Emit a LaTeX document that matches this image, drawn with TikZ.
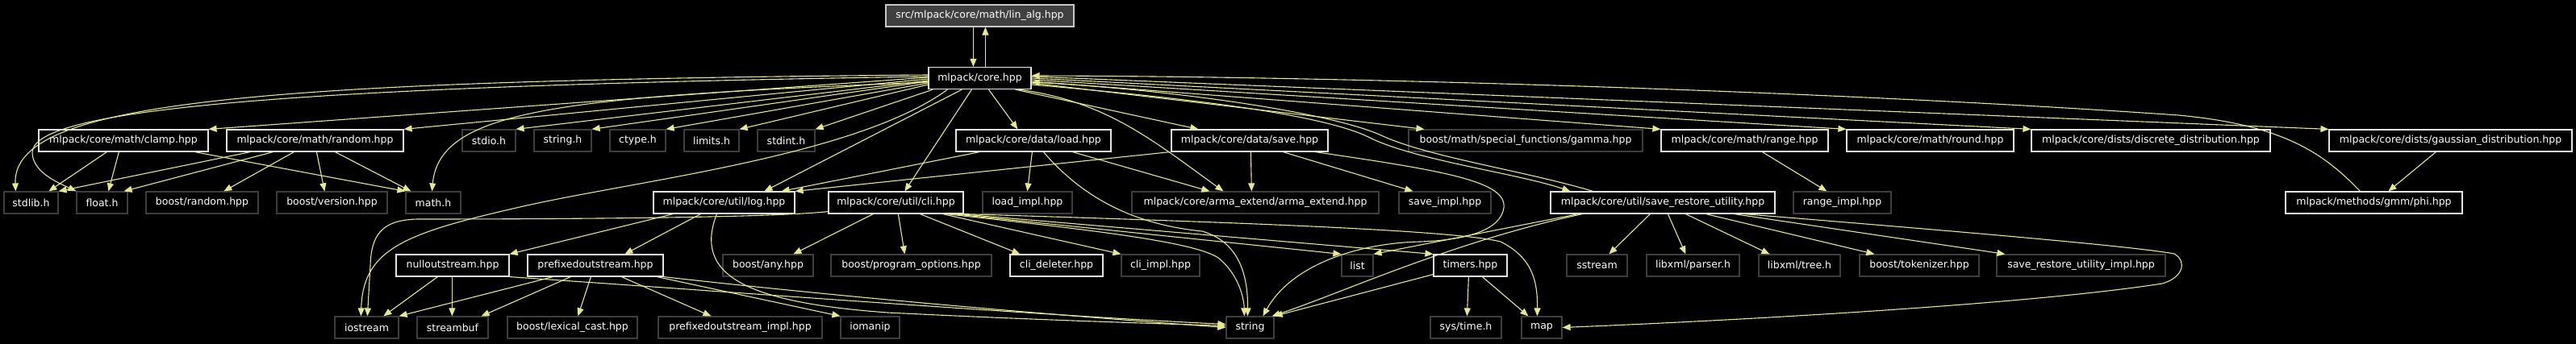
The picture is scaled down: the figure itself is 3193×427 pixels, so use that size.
\documentclass[tikz,border=0pt]{standalone}
\usepackage{fontspec}
\setmainfont{DejaVu Sans}
\usetikzlibrary{arrows.meta}
\definecolor{edgec}{RGB}{232,232,144}
\definecolor{grayb}{RGB}{62,62,62}
\definecolor{whiteb}{RGB}{228,228,228}
\definecolor{linfill}{RGB}{64,64,64}
\definecolor{linb}{RGB}{200,200,200}
\tikzset{
  nd/.style={rectangle, inner sep=0pt, minimum height=27pt, text=white,
             font=\fontsize{12.5}{14}\selectfont, line width=1.2pt, fill=black},
  proj/.style={nd, draw=whiteb},
  ext/.style={nd, draw=grayb},
  topn/.style={nd, draw=linb, fill=linfill},
  dep/.style={draw=edgec, line width=1.1pt, -{Triangle[length=10pt,width=8pt]}},
}
\newcommand{\bx}[6]{\node[#6, minimum width={(#3)-(#2)}] (#1) at ({((#2)+(#3))/2},#4) {#5};}
\begin{document}
\begin{tikzpicture}[x=1pt,y=-1pt]
\useasboundingbox (0,0) rectangle (3193,427);
\fill[black] (0,0) rectangle (3193,427);
% rows
\bx{linalg}{1098}{1331}{19.5}{src/mlpack/core/math/lin\_alg.hpp}{topn}
\bx{core}{1151}{1278}{97}{mlpack/core.hpp}{proj}
% row 2
\bx{clamp}{48}{258}{174.5}{mlpack/core/math/clamp.hpp}{proj}
\bx{random}{281}{500}{174.5}{mlpack/core/math/random.hpp}{proj}
\bx{stdio}{573}{639}{174.5}{stdio.h}{ext}
\bx{stringh}{662}{733}{174.5}{string.h}{ext}
\bx{ctype}{756}{825}{174.5}{ctype.h}{ext}
\bx{limits}{848}{916}{174.5}{limits.h}{ext}
\bx{stdint}{939}{1010}{174.5}{stdint.h}{ext}
\bx{load}{1185}{1377}{174.5}{mlpack/core/data/load.hpp}{proj}
\bx{save}{1452}{1646}{174.5}{mlpack/core/data/save.hpp}{proj}
\bx{gamma}{1746}{2036}{174.5}{boost/math/special\_functions/gamma.hpp}{ext}
\bx{range}{2059}{2266}{174.5}{mlpack/core/math/range.hpp}{proj}
\bx{round}{2289}{2496}{174.5}{mlpack/core/math/round.hpp}{proj}
\bx{discrete}{2518}{2814}{174.5}{mlpack/core/dists/discrete\_distribution.hpp}{proj}
\bx{gaussian}{2887}{3188}{174.5}{mlpack/core/dists/gaussian\_distribution.hpp}{proj}
% row 3
\bx{stdlib}{5}{72}{251.5}{stdlib.h}{ext}
\bx{floath}{95}{158}{251.5}{float.h}{ext}
\bx{brandom}{181}{320}{251.5}{boost/random.hpp}{ext}
\bx{bversion}{343}{480}{251.5}{boost/version.hpp}{ext}
\bx{mathh}{503}{571}{251.5}{math.h}{ext}
\bx{log}{810}{985}{251.5}{mlpack/core/util/log.hpp}{proj}
\bx{cli}{1027}{1194}{251.5}{mlpack/core/util/cli.hpp}{proj}
\bx{loadimpl}{1218}{1329}{251.5}{load\_impl.hpp}{ext}
\bx{arma}{1403}{1709}{251.5}{mlpack/core/arma\_extend/arma\_extend.hpp}{ext}
\bx{saveimpl}{1734}{1848}{251.5}{save\_impl.hpp}{ext}
\bx{sr}{1922}{2200}{251.5}{mlpack/core/util/save\_restore\_utility.hpp}{proj}
\bx{rangeimpl}{2223}{2344}{251.5}{range\_impl.hpp}{ext}
\bx{phi}{2833}{3052}{251.5}{mlpack/methods/gmm/phi.hpp}{proj}
% row 4
\bx{null}{491}{631}{329.5}{nulloutstream.hpp}{proj}
\bx{pre}{654}{822}{329.5}{prefixedoutstream.hpp}{proj}
\bx{any}{896}{1008}{329.5}{boost/any.hpp}{ext}
\bx{po}{1030}{1229}{329.5}{boost/program\_options.hpp}{ext}
\bx{deleter}{1252}{1367}{329.5}{cli\_deleter.hpp}{proj}
\bx{cliimpl}{1390}{1487}{329.5}{cli\_impl.hpp}{ext}
\bx{list}{1663}{1702}{329.5}{list}{ext}
\bx{timers}{1777}{1868}{329.5}{timers.hpp}{proj}
\bx{sstream}{1942}{2017}{329.5}{sstream}{ext}
\bx{parser}{2041}{2156}{329.5}{libxml/parser.h}{ext}
\bx{tree}{2180}{2281}{329.5}{libxml/tree.h}{ext}
\bx{tok}{2305}{2453}{329.5}{boost/tokenizer.hpp}{ext}
\bx{srimpl}{2475}{2684}{329.5}{save\_restore\_utility\_impl.hpp}{ext}
% row 5
\bx{iostream}{415}{494}{406.5}{iostream}{ext}
\bx{streambuf}{517}{605}{406.5}{streambuf}{ext}
\bx{lexical}{629}{790}{406.5}{boost/lexical\_cast.hpp}{ext}
\bx{pimpl}{816}{1019}{406.5}{prefixedoutstream\_impl.hpp}{ext}
\bx{iomanip}{1042}{1115}{406.5}{iomanip}{ext}
\bx{string}{1520}{1579}{406.5}{string}{ext}
\bx{systime}{1773}{1861}{406.5}{sys/time.h}{ext}
\bx{map}{1886}{1936}{406.5}{map}{ext}

% lin_alg <-> core
\draw[dep] ([xshift=109pt]linalg.south west) -- ([xshift=56pt]core.north west);
\draw[dep] ([xshift=71pt]core.north west) -- ([xshift=124pt]linalg.south west);

% core, left side
\draw[dep] ([yshift=4pt]core.west) .. controls (300,100) and (15,128) .. ([xshift=15pt]stdlib.north west);
\draw[dep] ([yshift=2pt]core.west) .. controls (300,108) and (38,140) .. (40,190) .. controls (41,215) and (75,228) .. (floath.north west);
\draw[dep] ([yshift=1pt]core.west) -- (clamp.north east);
\draw[dep] ([yshift=-1pt]core.west) -- (random.north east);
\draw[dep] ([yshift=-5pt]core.west) .. controls (700,120) and (545,135) .. ([xshift=33pt]mathh.north west);
\draw[dep] ([yshift=-3pt]core.west) -- (stdio.north east);
\draw[dep] ([yshift=-4pt]core.west) -- (stringh.north east);
\draw[dep] ([yshift=-6pt]core.west) -- (ctype.north east);
\draw[dep] ([yshift=-8pt]core.west) -- (limits.north east);
\draw[dep] ([xshift=6pt]core.south west) -- (stdint.north east);

% core, bottom
\draw[dep] ([xshift=24pt]core.south west) .. controls (1060,195) and (780,225) .. (640,258) .. controls (500,290) and (450,310) .. ([xshift=33pt]iostream.north west);
\draw[dep] ([xshift=42pt]core.south west) -- ([xshift=138pt]log.north west);
\draw[dep] ([xshift=54pt]core.south west) -- ([xshift=95pt]cli.north west);
\draw[dep] ([xshift=75pt]core.south west) -- ([xshift=77pt]load.north west);
\draw[dep] ([xshift=108pt]core.south west) -- ([xshift=34pt]save.north west);
\draw[dep] ([xshift=112pt]core.south west) .. controls (1370,125) and (1430,175) .. ([xshift=114pt]arma.north west);

% core, right side
\draw[dep] ([yshift=-6pt]core.east) -- ([xshift=20pt]gamma.north west);
\draw[dep] ([yshift=-4pt]core.east) -- (range.north west);
\draw[dep] ([yshift=-2pt]core.east) -- (round.north west);
\draw[dep] (core.east) -- (discrete.north west);
\draw[dep] ([yshift=2pt]core.east) -- (gaussian.north west);
\draw[dep] ([yshift=-8pt]core.east) .. controls (1450,120) and (1640,140) .. (1700,172) .. controls (1760,200) and (1880,215) .. ([xshift=25pt]sr.north west);
\draw[dep] ([xshift=53pt]sr.north west) .. controls (1890,212) and (1770,195) .. (1712,168) .. controls (1650,140) and (1460,112) .. ([yshift=-5pt]core.east);
\draw[dep] ([xshift=93pt]phi.north west) .. controls (2880,190) and (2830,155) .. (2700,143) .. controls (2300,115) and (1700,95) .. ([yshift=3pt]core.east);

% clamp
\draw[dep] ([xshift=85pt]clamp.south west) -- ([xshift=56pt]stdlib.north west);
\draw[dep] ([xshift=100pt]clamp.south west) -- ([xshift=40pt]floath.north west);
\draw[dep] ([xshift=194pt]clamp.south west) -- (mathh.north west);
% random
\draw[dep] ([xshift=30pt]random.south west) -- (stdlib.north east);
\draw[dep] ([xshift=58pt]random.south west) -- ([xshift=-5pt]floath.north east);
\draw[dep] ([xshift=84pt]random.south west) -- ([xshift=97pt]brandom.north west);
\draw[dep] ([xshift=112pt]random.south west) -- ([xshift=60pt]bversion.north west);
\draw[dep] ([xshift=135pt]random.south west) -- ([xshift=7pt]mathh.north west);

% load
\draw[dep] ([xshift=30pt]load.south west) -- ([xshift=-17pt]log.north east);
\draw[dep] ([xshift=95pt]load.south west) -- ([xshift=56pt]loadimpl.north west);
\draw[dep] ([xshift=145pt]load.south west) -- ([xshift=97pt]arma.north west);
\draw[dep] ([xshift=109pt]load.south west) .. controls (1350,255) and (1420,280) .. (1490,287) .. controls (1535,300) and (1547,340) .. ([xshift=27pt]string.north west);
% save
\draw[dep] ([xshift=-1pt]save.south west) -- (log.north east);
\draw[dep] ([xshift=139pt]save.south west) -- ([xshift=18pt]saveimpl.north west);
\draw[dep] ([xshift=99pt]save.south west) -- ([xshift=149pt]arma.north west);
\draw[dep] ([xshift=179pt]save.south west) .. controls (1790,212) and (1868,225) .. (1864,258) .. controls (1860,285) and (1820,298) .. (1760,300) .. controls (1680,302) and (1600,330) .. ([xshift=46pt]string.north west);

% range, gaussian
\draw[dep] ([xshift=126pt]range.south west) -- ([xshift=42pt]rangeimpl.north west);
\draw[dep] ([xshift=133pt]gaussian.south west) -- ([xshift=128pt]phi.north west);

% log
\draw[dep] ([xshift=25pt]log.south west) -- (null.north east);
\draw[dep] ([xshift=59pt]log.south west) -- ([xshift=121pt]pre.north west);
\draw[dep] ([xshift=79pt]log.south west) .. controls (860,340) and (920,375) .. (1100,388) .. controls (1300,398) and (1450,402) .. ([yshift=2pt]string.west);

% cli
\draw[dep] ([yshift=3pt]cli.south west) .. controls (950,271) and (650,272) .. (520,272) .. controls (470,272) and (460,295) .. (459,330) -- ([xshift=41pt]iostream.north west);
\draw[dep] ([xshift=56pt]cli.south west) -- ([xshift=88pt]any.north west);
\draw[dep] ([xshift=87pt]cli.south west) -- ([xshift=92pt]po.north west);
\draw[dep] ([xshift=114pt]cli.south west) -- ([xshift=13pt]deleter.north west);
\draw[dep] ([xshift=142pt]cli.south west) -- (cliimpl.north west);
\draw[dep] ([xshift=146pt]cli.south west) .. controls (1350,285) and (1480,300) .. (1510,320) .. controls (1535,340) and (1542,370) .. ([xshift=23pt]string.north west);
\draw[dep] ([xshift=155pt]cli.south west) -- (list.north west);
\draw[dep] ([xshift=162pt]cli.south west) -- (timers.north west);
\draw[dep] (cli.south east) .. controls (1500,275) and (1800,285) .. (1860,300) .. controls (1900,320) and (1906,350) .. ([xshift=20pt]map.north west);

% nulloutstream
\draw[dep] ([xshift=52pt]null.south west) -- ([xshift=61pt]iostream.north west);
\draw[dep] ([xshift=70pt]null.south west) -- ([xshift=44pt]streambuf.north west);
\draw[dep] (null.south east) .. controls (900,362) and (1300,392) .. ([yshift=4pt]string.west);

% prefixedoutstream
\draw[dep] ([xshift=32pt]pre.south west) -- (iostream.north east);
\draw[dep] ([xshift=54pt]pre.south west) -- ([xshift=-9pt]streambuf.north east);
\draw[dep] ([xshift=79pt]pre.south west) -- ([xshift=88pt]lexical.north west);
\draw[dep] ([xshift=117pt]pre.south west) -- ([xshift=66pt]pimpl.north west);
\draw[dep] ([xshift=161pt]pre.south west) -- (iomanip.north west);
\draw[dep] (pre.south east) .. controls (1100,375) and (1400,398) .. (string.west);

% timers
\draw[dep] ([xshift=44pt]timers.south west) -- ([xshift=46pt]systime.north west);
\draw[dep] ([xshift=61pt]timers.south west) -- ([xshift=9pt]map.north west);
\draw[dep] ([yshift=3pt]timers.south west) -- (string.north east);

% save_restore_utility
\draw[dep] ([xshift=35pt]sr.south west) -- (list.north east);
\draw[dep] ([xshift=40pt]sr.south west) .. controls (1800,300) and (1660,365) .. ([xshift=-3pt]string.north east);
\draw[dep] ([xshift=124pt]sr.south west) -- ([xshift=53pt]sstream.north west);
\draw[dep] ([xshift=146pt]sr.south west) -- ([xshift=49pt]parser.north west);
\draw[dep] ([xshift=168pt]sr.south west) -- ([xshift=14pt]tree.north west);
\draw[dep] ([xshift=193pt]sr.south west) -- ([xshift=19pt]tok.north west);
\draw[dep] ([xshift=228pt]sr.south west) -- ([xshift=11pt]srimpl.north west);
\draw[dep] ([xshift=240pt]sr.south west) .. controls (2400,285) and (2640,305) .. (2695,315) .. controls (2712,325) and (2705,345) .. (2680,352) .. controls (2500,380) and (2100,400) .. (map.east);
\end{tikzpicture}
\end{document}
